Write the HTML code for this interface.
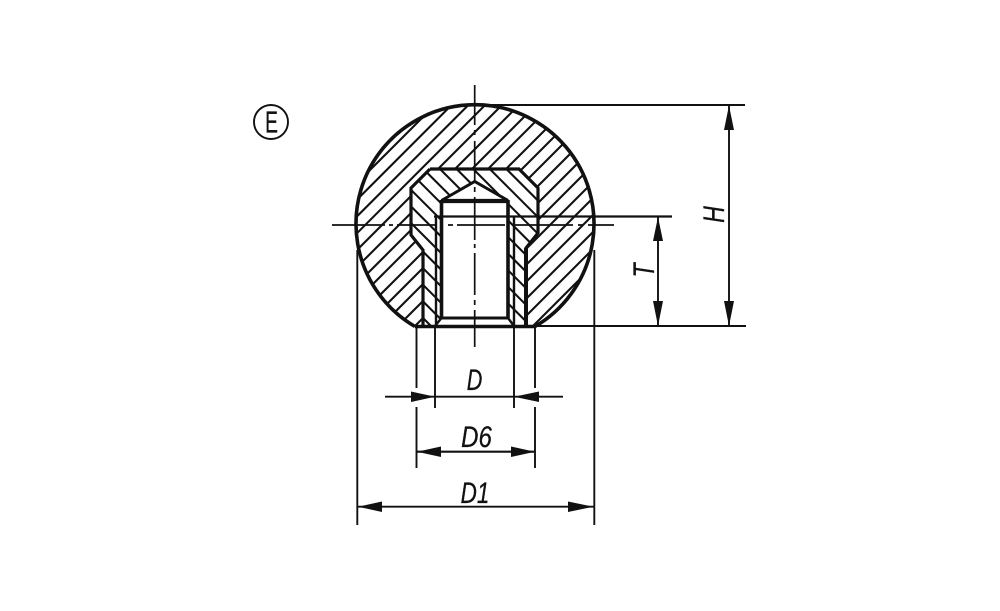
<!DOCTYPE html>
<html>
<head>
<meta charset="utf-8">
<style>
html,body{margin:0;padding:0;background:#fff;width:1000px;height:611px;overflow:hidden}
svg{display:block}
text{font-family:"Liberation Sans",sans-serif;fill:#111;stroke:#111;stroke-width:.3px}
.i{font-style:italic;font-size:30px;text-anchor:middle}
</style>
</head>
<body>
<svg width="1000" height="611" viewBox="0 0 1000 611" xmlns="http://www.w3.org/2000/svg">
<defs>
<clipPath id="body"><path clip-rule="evenodd" d="M415 326.5 A119 119 0 1 1 535 326.5 Z M430 169 L519 169 L538 188 L538 233 L526 248 L526 326.5 L423 326.5 L423 250 L411 235 L411 188 Z"/></clipPath>
<clipPath id="ins"><path clip-rule="evenodd" d="M430 169 L519 169 L538 188 L538 233 L526 248 L526 326.5 L423 326.5 L423 250 L411 235 L411 188 Z M474.7 181 L441 200 L441 318 L435 326.5 L514 326.5 L508 318 L508 200 Z"/></clipPath>
</defs>

<!-- hatching: body (x+y=c) -->
<g stroke="#111" stroke-width="2.1" clip-path="url(#body)">
<path d="M340 200L540 0M340 216.6L556.6 0M340 233.4L573.4 0M340 250.2L590.2 0M340 267L607 0M340 284L624 0M340 301L641 0M340 317L657 0M340 335L675 0M340 351L691 0M340 367L707 0M340 384L724 0M340 401L741 0M340 418L758 0M340 435L775 0M340 451L791 0M340 468L808 0M340 485L825 0M340 502L842 0M340 519L859 0"/>
</g>
<!-- hatching: insert (x-y=d) -->
<g stroke="#111" stroke-width="2.1" clip-path="url(#ins)">
<path d="M405 300L555 450M405 283.4L555 433.4M405 266.8L555 416.8M405 250.2L555 400.2M405 233.6L555 383.6M405 217L555 367M405 200.4L555 350.4M405 183.8L555 333.8M405 167.2L555 317.2M405 150.6L555 300.6M405 134L555 284M405 117.4L555 267.4M405 100.8L555 250.8M405 84.2L555 234.2M405 67.6L555 217.6M405 51L555 201"/>
</g>

<!-- outlines -->
<g fill="none" stroke="#111" stroke-linejoin="miter">
<path d="M415 326.5 A119 119 0 1 1 535 326.5" stroke-width="3.6"/>
<path d="M430 169 L519 169 L538 188 L538 233 L526 248 L526 326.5 M423 326.5 L423 250 L411 235 L411 188 L430 169" stroke-width="3.2"/>
<path d="M526 248 L526 326.5" stroke-width="4"/>
<path d="M415 326.5 L535 326.5" stroke-width="3.4"/>
<path d="M441.5 200.5 L474.7 181.5 L508 200.5" stroke-width="3"/>
<path d="M441.5 201 L508 201" stroke-width="4.2"/>
<path d="M441.5 200 L441.5 318 M508 200 L508 318" stroke-width="3.6"/>
<path d="M441.5 318 L508 318" stroke-width="3"/>
<path d="M441.5 318 L435 326 M508 318 L514 326" stroke-width="2.4"/>
<path d="M436 216.5 L436 326 M514 216.5 L514 326" stroke-width="2.4"/>
<path d="M434 216.5 L672 216.5" stroke-width="2.2"/>
</g>

<!-- centre lines -->
<g stroke="#111" stroke-width="1.7" fill="none">
<path d="M332 225H385M389 225H393M397 225H437M448 225H453M457 225H505M515 225H573M578 225H583M588 225H614"/>
<path d="M474.7 85V125M474.7 130V135M474.7 141V181M474.7 187V192M474.7 197V240M474.7 244V248M474.7 253V295M474.7 300V305M474.7 310V347"/>
</g>

<!-- extension & dimension lines -->
<g stroke="#111" stroke-width="1.9" fill="none">
<path d="M475 105H745M530 326H746"/>
<path d="M729 105V326M658 217V326"/>
<path d="M357.3 250V525M594.3 250V525"/>
<path d="M416.5 326V388M416.5 407V468M535 326V388M535 407V468"/>
<path d="M435 326V408M514 326V408"/>
<path d="M385 396.7H563"/>
<path d="M417 451.7H535" stroke-width="2.1"/>
<path d="M358 506.7H594"/>
</g>

<!-- arrowheads -->
<g fill="#111" stroke="none">
<path d="M435 396.7L411 391.5V402Z"/>
<path d="M514 396.7L539 391.5V402Z"/>
<path d="M417 451.7L441 446.5V457Z"/>
<path d="M535 451.7L511 446.5V457Z"/>
<path d="M358 506.7L382 501.5V512Z"/>
<path d="M593.5 506.7L568 501.5V512Z"/>
<path d="M729 105.5L724 130H734Z"/>
<path d="M729 326L724 301H734Z"/>
<path d="M658 217L653 241H663Z"/>
<path d="M658 326L653 301H663Z"/>
</g>

<!-- labels -->
<text class="i" transform="translate(474.5 390) scale(.72 1)">D</text>
<text class="i" transform="translate(476.5 447) scale(.8 1)">D6</text>
<text class="i" transform="translate(475 503) scale(.75 1)">D1</text>
<text class="i" transform="translate(724 214.5) rotate(-90) scale(.77 1)">H</text>
<text class="i" transform="translate(654 270.5) rotate(-90) scale(.77 1)">T</text>

<!-- E symbol -->
<circle cx="271" cy="122" r="17" fill="none" stroke="#111" stroke-width="1.9"/>
<text transform="translate(271.5 132.5) scale(.62 1)" font-size="31" text-anchor="middle">E</text>
</svg>
</body>
</html>
